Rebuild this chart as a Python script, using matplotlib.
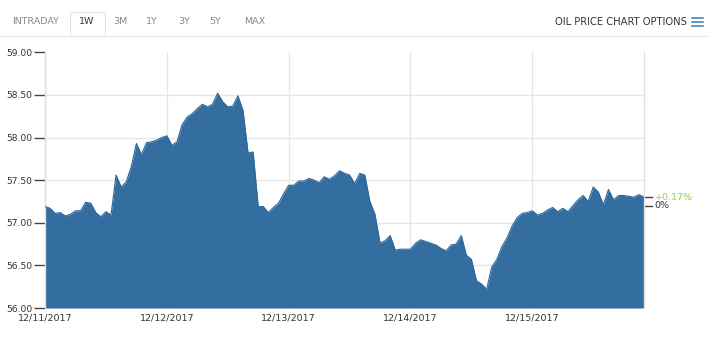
import numpy as np
import matplotlib.pyplot as plt
from matplotlib.lines import Line2D
from matplotlib.patches import Rectangle

# hourly oil price, 12/11/2017 00:00 onwards
prices = [
    57.19, 57.17, 57.11, 57.12, 57.08, 57.10, 57.14, 57.14, 57.24, 57.23, 57.12, 57.07,
    57.13, 57.09, 57.56, 57.42, 57.48, 57.66, 57.93, 57.80, 57.94, 57.95, 57.97, 58.00,
    58.02, 57.91, 57.95, 58.15, 58.24, 58.28, 58.34, 58.39, 58.36, 58.39, 58.52, 58.42,
    58.36, 58.37, 58.49, 58.32, 57.82, 57.83, 57.19, 57.19, 57.12, 57.18, 57.23, 57.34,
    57.44, 57.44, 57.49, 57.49, 57.52, 57.50, 57.47, 57.54, 57.51, 57.55, 57.61, 57.58,
    57.56, 57.46, 57.58, 57.56, 57.25, 57.10, 56.76, 56.79, 56.85, 56.68, 56.69, 56.69,
    56.69, 56.76, 56.80, 56.78, 56.76, 56.74, 56.70, 56.67, 56.74, 56.75, 56.85, 56.62,
    56.57, 56.32, 56.28, 56.22, 56.48, 56.57, 56.72, 56.82, 56.96, 57.06, 57.11, 57.12,
    57.14, 57.09, 57.11, 57.15, 57.18, 57.13, 57.17, 57.13, 57.20, 57.27, 57.32, 57.25,
    57.42, 57.36, 57.21, 57.39, 57.27, 57.32, 57.32, 57.31, 57.30, 57.33, 57.30,
]
hours = np.arange(len(prices))
day_labels = ['12/11/2017', '12/12/2017', '12/13/2017', '12/14/2017', '12/15/2017']
yticks = [56.0, 56.5, 57.0, 57.5, 58.0, 58.5, 59.0]
prev_close = 57.20
last = prices[-1]
tabs = ['INTRADAY', '1W', '3M', '1Y', '3Y', '5Y', 'MAX']

W, H = 710, 338
fig = plt.figure(figsize=(W / 100, H / 100), dpi=100)
ax = fig.add_axes([45 / W, (H - 308) / H, (644 - 45) / W, (308 - 52.3) / H])

ax.fill_between(hours, 56.0, prices, color='#2b679c', alpha=0.96, lw=0, zorder=2)
ax.plot(hours, prices, color='#2b679c', lw=0.8, zorder=3)

ax.set_xlim(0, 118)
ax.set_ylim(56, 59)
ax.set_yticks(yticks)
ax.set_yticklabels(['%.2f' % v for v in yticks])
ax.set_xticks(np.arange(len(day_labels)) * 24)
ax.set_xticklabels(day_labels)
ax.tick_params(axis='y', length=8, width=1, color='#444444', pad=1,
               labelsize=6.6, labelcolor='#333333')
ax.tick_params(axis='x', length=0, pad=4, labelsize=6.8, labelcolor='#333333')

ax.grid(True, color='#e6e6e6', lw=1, zorder=0)
ax.set_axisbelow(True)
ax.get_ygridlines()[-1].set_visible(False)
for s in ['top', 'bottom']:
    ax.spines[s].set_visible(False)
for s in ['left', 'right']:
    ax.spines[s].set_color('#e0e0e0')
    ax.spines[s].set_linewidth(1)

# right side change labels
pct = (last - prev_close) / prev_close * 100
for val, txt, col in [(last, '+%.2f%%' % pct, '#8ed04a'), (prev_close, '0%', '#333333')]:
    ax.plot([1.002, 1.013], [val, val], color='#444444', lw=1,
            transform=ax.get_yaxis_transform(), clip_on=False)
    ax.text(1.018, val, txt, transform=ax.get_yaxis_transform(), color=col,
            fontsize=6.8, va='center', ha='left')

# header tabs
fig.add_artist(Line2D([0, 1], [(H - 35.5) / H] * 2, color='#ececec', lw=1))
fig.add_artist(Rectangle((70 / W, (H - 36) / H), 34.5 / W, 24 / H, facecolor='white',
                         edgecolor='#e2e2e2', lw=0.8))
tab_x = [35.5, 87, 120, 152, 184, 215, 255]
for t, x in zip(tabs, tab_x):
    fig.text(x / W, (H - 22) / H, t, ha='center', va='center', fontsize=6.8,
             color='#333333' if t == '1W' else '#888888')

fig.text(687 / W, (H - 22) / H, 'OIL PRICE CHART OPTIONS', ha='right', va='center',
         fontsize=7.2, color='#333333')
for dy in [-4, 0, 4]:
    fig.add_artist(Line2D([692 / W, 703 / W], [(H - 22 + dy) / H] * 2,
                          color='#3f78b8', lw=1.1))

fig.savefig('out.png', dpi=100)
